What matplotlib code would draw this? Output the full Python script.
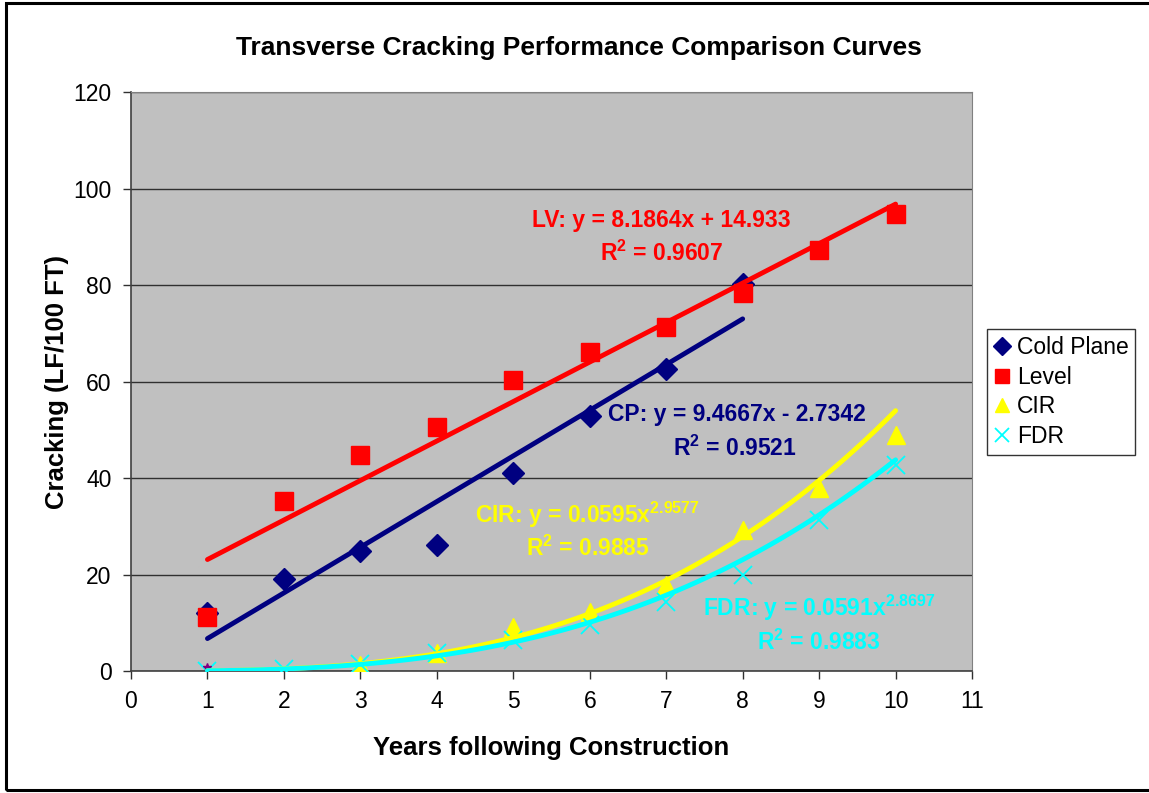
import numpy as np
import matplotlib
matplotlib.use("Agg")
from matplotlib import pyplot as plt
from matplotlib.patches import Rectangle

plt.rcParams['font.family'] = ['Liberation Sans', 'DejaVu Sans']
plt.rcParams['mathtext.fontset'] = 'custom'
plt.rcParams['mathtext.rm'] = 'Liberation Sans:bold'
plt.rcParams['mathtext.default'] = 'rm'

years = np.arange(1, 11)
cold_plane_x = np.arange(1, 9)
cold_plane = [12.0, 19.1, 24.9, 26.1, 41.0, 52.8, 62.6, 80.2]
level = [11.2, 35.2, 44.8, 50.6, 60.3, 66.1, 71.3, 78.3, 87.3, 94.7]
cir_x = np.arange(3, 11)
cir = [1.2, 3.7, 9.1, 12.2, 17.8, 29.2, 37.9, 48.9]
fdr = [0.0, 0.5, 1.5, 3.7, 6.4, 9.5, 14.3, 19.9, 31.3, 42.7]

# trendline coefficients as printed on the chart
lv_fit = (8.1864, 14.933)
cp_fit = (9.4667, -2.7342)
cir_fit = (0.0595, 2.9577)
fdr_fit = (0.0591, 2.8697)

fig = plt.figure(figsize=(11.49, 7.93), dpi=100)
ax = fig.add_axes([0.114, 0.1538, 0.732, 0.730])
ax.set_facecolor('#c0c0c0')

fig.patches.append(Rectangle((6 / 1149, 3 / 793), 1.0, 1 - 6 / 793, transform=fig.transFigure,
                             fill=False, edgecolor='black', linewidth=2.2))

xx = np.linspace(1, 10, 100)
xcp = np.linspace(1, 8, 100)

# markers
ax.plot(cold_plane_x, cold_plane, 'D', color='#000080', markersize=11.5, linestyle='none',
        label='Cold Plane', zorder=3)
ax.plot(years, level, 's', color='#ff0000', markersize=12.5, linestyle='none', label='Level', zorder=3)
ax.plot(cir_x, cir, '^', color='#ffff00', markersize=13, linestyle='none', label='CIR', zorder=3)
ax.plot(years, fdr, 'x', color='#00ffff', markersize=13, markeredgewidth=1.3, linestyle='none',
        label='FDR', zorder=3)
ax.plot([1], [0.8], '*', color='#800080', markersize=6, zorder=3)

# trendlines
ax.plot(xx, lv_fit[0] * xx + lv_fit[1], color='#ff0000', lw=3.5, solid_capstyle='round', zorder=4)
ax.plot(xcp, cp_fit[0] * xcp + cp_fit[1], color='#000080', lw=3.5, solid_capstyle='round', zorder=4)
ax.plot(xx, cir_fit[0] * xx ** cir_fit[1], color='#ffff00', lw=3.5, solid_capstyle='round', zorder=4)
ax.plot(xx, fdr_fit[0] * xx ** fdr_fit[1], color='#00ffff', lw=3.5, solid_capstyle='round', zorder=4)

ax.set_xlim(0, 11)
ax.set_ylim(0, 120)
ax.set_xticks(range(0, 12))
ax.set_yticks(range(0, 121, 20))
ax.yaxis.grid(True, color='#303030', linewidth=1.0)
ax.set_axisbelow(True)
ax.tick_params(labelsize=16.5, length=6, width=1, colors='#303030', labelcolor='black', pad=8)
for s in ['top', 'right']:
    ax.spines[s].set_color('#808080')
for s in ['left', 'bottom']:
    ax.spines[s].set_color('#404040')
    ax.spines[s].set_linewidth(1.2)

ax.set_xlabel('Years following Construction', fontsize=18.5, fontweight='bold', labelpad=16)
ax.set_ylabel('Cracking (LF/100 FT)', fontsize=18.5, fontweight='bold', labelpad=3)
fig.text(0.504, 1 - 48 / 793, 'Transverse Cracking Performance Comparison Curves',
         ha='center', va='center', fontsize=19, fontweight='bold')

tk = dict(fontsize=16.5, fontweight='bold', ha='center', va='center', zorder=5)
ax.text(6.93, 93.4, 'LV: y = 8.1864x + 14.933', color='#ff0000', **tk)
ax.text(6.94, 86.6, 'R$^2$ = 0.9607', color='#ff0000', **tk)
ax.text(7.92, 53.1, 'CP: y = 9.4667x - 2.7342', color='#000080', **tk)
ax.text(7.9, 46.2, 'R$^2$ = 0.9521', color='#000080', **tk)
ax.text(5.97, 32.3, 'CIR: y = 0.0595x$^{2.9577}$', color='#ffff00', **tk)
ax.text(5.97, 25.5, 'R$^2$ = 0.9885', color='#ffff00', **tk)
ax.text(9.0, 13.1, 'FDR: y = 0.0591x$^{2.8697}$', color='#00ffff', **tk)
ax.text(8.99, 6.0, 'R$^2$ = 0.9883', color='#00ffff', **tk)

leg = fig.legend(loc='center left', bbox_to_anchor=(987 / 1149, 1 - 392 / 793), fontsize=16.5,
                 frameon=True, fancybox=False, edgecolor='black', handlelength=0.7,
                 handletextpad=0.3, borderpad=0.3, labelspacing=0.3, borderaxespad=0,
                 markerscale=0.8)
leg.get_frame().set_linewidth(1.0)

fig.savefig('out.png', dpi=100)
